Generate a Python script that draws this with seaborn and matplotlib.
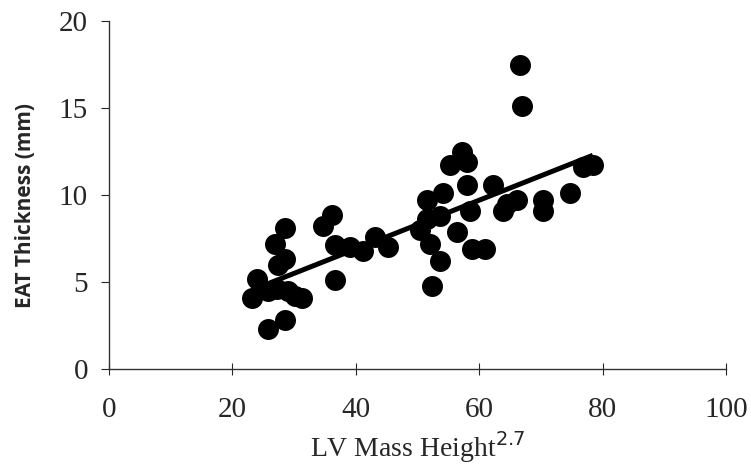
import numpy as np
import pandas as pd
import matplotlib
matplotlib.use('Agg')
import matplotlib.pyplot as plt
import seaborn as sns

# values
lv_mass = [23.2, 24.0, 25.8, 25.8, 26.9, 28.5, 28.5, 27.4, 28.5, 29.0, 31.3,
           27.3, 30.2,
           34.7, 36.1, 36.6, 36.6, 39.0, 41.2, 43.1, 45.2,
           50.4, 51.5, 51.5, 52.0, 52.3, 53.6, 53.6, 54.1, 55.3, 56.4,
           57.2, 58.0, 58.0, 58.5, 58.8, 61.0, 62.2, 63.9, 64.5, 66.1,
           66.6, 66.9, 70.3, 70.3, 74.7, 76.8, 78.4]
eat_thickness = [4.1, 5.2, 4.5, 2.3, 7.2, 8.1, 6.3, 6.0, 2.8, 4.5, 4.1,
                 4.6, 4.2,
                 8.2, 8.85, 7.1, 5.1, 7.0, 6.8, 7.6, 7.0,
                 8.0, 9.7, 8.6, 7.2, 4.8, 6.2, 8.8, 10.1, 11.7, 7.9,
                 12.5, 11.9, 10.6, 9.1, 6.9, 6.9, 10.6, 9.1, 9.5, 9.7,
                 17.5, 15.1, 9.7, 9.1, 10.1, 11.6, 11.7]
x_ticks = [0, 20, 40, 60, 80, 100]
y_ticks = [0, 5, 10, 15, 20]

df = pd.DataFrame({'lv_mass': lv_mass, 'eat': eat_thickness})

sns.set_style('ticks', {'axes.spines.right': False, 'axes.spines.top': False})
plt.rcParams['font.family'] = ['Liberation Serif', 'DejaVu Serif']

fig = plt.figure(figsize=(7.51, 4.68), dpi=100)
ax = fig.add_axes([0.145, 0.2115, 0.822, 0.7435])

sns.regplot(data=df, x='lv_mass', y='eat', ci=None, ax=ax, color='black',
            scatter_kws={'s': 228, 'alpha': 1, 'linewidths': 0},
            line_kws={'lw': 3.6, 'solid_capstyle': 'butt'})

ax.set_xlim(0, 100)
ax.set_ylim(0, 20)
ax.set_xticks(x_ticks)
ax.set_yticks(y_ticks)
ax.tick_params(axis='x', direction='inout', length=9, width=0.8, labelsize=21, pad=16)
ax.tick_params(axis='y', direction='out', length=6, width=0.8, labelsize=21, pad=9)
for s in ['left', 'bottom']:
    ax.spines[s].set_linewidth(1.0)
    ax.spines[s].set_color('#333333')

ax.set_xlabel('LV Mass Height$^{2.7}$', fontsize=20, labelpad=4,
              family=['Liberation Serif'])
ax.set_ylabel('EAT Thickness (mm)', fontsize=15, fontweight='bold',
              family=['Open Sans', 'DejaVu Sans'])
ax.yaxis.set_label_coords(-0.118, 0.47)

plt.savefig('out.png', dpi=100)
